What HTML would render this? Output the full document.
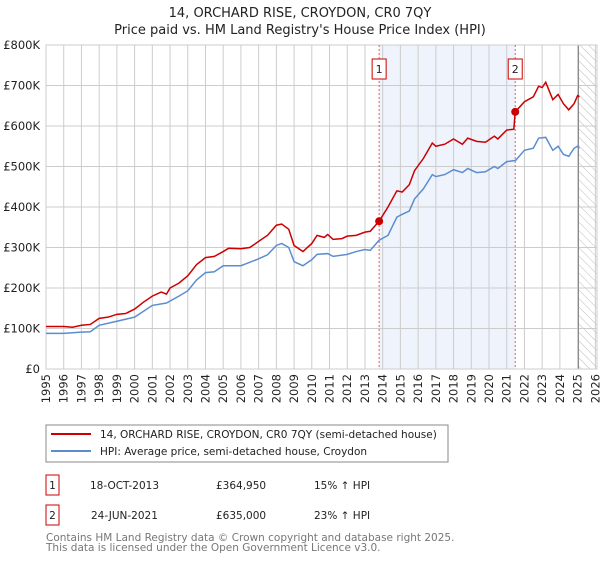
<!DOCTYPE html>
<html><head><meta charset="utf-8"><style>
body{margin:0;background:#fff;font-family:"Liberation Sans","DejaVu Sans",sans-serif;}
svg text{font-family:"DejaVu Sans","Liberation Sans",sans-serif;}
</style></head><body>
<svg id="chart" width="600" height="560" viewBox="0 0 600 560" xmlns="http://www.w3.org/2000/svg">
<defs><pattern id="hatch" width="6" height="6" patternUnits="userSpaceOnUse" patternTransform="rotate(-45)"><line x1="0" y1="0" x2="0" y2="6" stroke="#bbb" stroke-width="1"/></pattern></defs>
<text x="300" y="17" text-anchor="middle" font-size="13" fill="#222">14, ORCHARD RISE, CROYDON, CR0 7QY</text>
<text x="300" y="34" text-anchor="middle" font-size="13" fill="#222">Price paid vs. HM Land Registry's House Price Index (HPI)</text>
<g id="plot"></g>
<g>
<rect x="46" y="425" width="402" height="37" fill="#fff" stroke="#888"/>
<line x1="51" y1="434" x2="91" y2="434" stroke="#cc0000" stroke-width="2"/>
<text x="100" y="438" font-size="10.5" fill="#222">14, ORCHARD RISE, CROYDON, CR0 7QY (semi-detached house)</text>
<line x1="51" y1="451" x2="91" y2="451" stroke="#5b8dd0" stroke-width="2"/>
<text x="100" y="455" font-size="10.5" fill="#222">HPI: Average price, semi-detached house, Croydon</text>
</g>
<g font-size="10.5" fill="#222">
<rect x="46" y="475" width="13" height="20" fill="#fff" stroke="#cc0000"/>
<text x="52.5" y="489" text-anchor="middle">1</text>
<text x="90" y="489">18-OCT-2013</text><text x="216" y="489">£364,950</text><text x="314" y="489">15% ↑ HPI</text>
</g>
<g font-size="10.5" fill="#222">
<rect x="46" y="505" width="13" height="20" fill="#fff" stroke="#cc0000"/>
<text x="52.5" y="519" text-anchor="middle">2</text>
<text x="91" y="519">24-JUN-2021</text><text x="216" y="519">£635,000</text><text x="314" y="519">23% ↑ HPI</text>
</g>
<text x="46" y="541" font-size="10.5" fill="#777">Contains HM Land Registry data © Crown copyright and database right 2025.</text>
<text x="46" y="551" font-size="10.5" fill="#777">This data is licensed under the Open Government Licence v3.0.</text>
</svg>
<script>
const yTicks=[0,100,200,300,400,500,600,700,800];
const yTickLabels=["£0","£100K","£200K","£300K","£400K","£500K","£600K","£700K","£800K"];
const years=[1995,1996,1997,1998,1999,2000,2001,2002,2003,2004,2005,2006,2007,2008,2009,2010,2011,2012,2013,2014,2015,2016,2017,2018,2019,2020,2021,2022,2023,2024,2025,2026];
const redT=[1995,1996,1996.5,1997,1997.5,1998,1998.5,1999,1999.5,2000,2000.5,2001,2001.5,2001.8,2002,2002.5,2003,2003.5,2004,2004.5,2005,2005.3,2006,2006.5,2007,2007.5,2008,2008.3,2008.7,2009,2009.5,2010,2010.3,2010.7,2010.9,2011.2,2011.7,2012,2012.5,2013,2013.3,2013.8,2014.3,2014.8,2015.1,2015.5,2015.8,2016.3,2016.8,2017,2017.5,2018,2018.5,2018.8,2019.3,2019.8,2020.3,2020.5,2021,2021.4,2021.48,2022,2022.5,2022.8,2023,2023.2,2023.6,2023.9,2024.2,2024.5,2024.8,2025,2025.1];
const redV=[105,105,103,108,110,125,128,135,137,148,165,180,190,185,200,212,230,258,275,278,290,298,297,300,315,330,355,358,345,305,290,310,330,325,332,320,322,328,330,338,340,365,400,440,437,455,490,520,558,550,555,568,555,570,562,560,575,568,590,592,635,660,672,698,695,708,665,678,655,640,655,675,672];
const blueT=[1995,1996,1997,1997.5,1998,1999,2000,2001,2001.8,2002.5,2003,2003.5,2004,2004.5,2005,2006,2007,2007.5,2008,2008.3,2008.7,2009,2009.5,2010,2010.3,2010.9,2011.2,2012,2012.5,2013,2013.3,2013.8,2014.3,2014.8,2015.1,2015.5,2015.8,2016.3,2016.8,2017,2017.5,2018,2018.5,2018.8,2019.3,2019.8,2020.3,2020.5,2021,2021.5,2022,2022.5,2022.8,2023.2,2023.6,2023.9,2024.2,2024.5,2024.8,2025,2025.1];
const blueV=[88,88,91,92,108,118,128,157,163,180,193,220,238,240,255,255,272,282,305,310,300,265,255,270,283,285,278,283,290,295,293,318,330,375,382,390,420,445,480,475,480,492,485,495,485,487,500,495,512,515,540,545,570,572,540,550,530,525,545,550,545];
const sales=[{t:2013.8,v:364.95,label:"1"},{t:2021.48,v:635,label:"2"}];
const NS="http://www.w3.org/2000/svg";
const L=46,R=597,T=45,B=369;
const x=t=>L+(t-1995)*17.72;
const y=v=>B-v*(B-T)/800;
const g=document.getElementById('plot');
function mk(tag,attrs){const e=document.createElementNS(NS,tag);for(const k in attrs)e.setAttribute(k,attrs[k]);g.appendChild(e);return e;}
let e;
e=mk('rect',{x:x(sales[0].t),y:T,width:x(sales[1].t)-x(sales[0].t),height:B-T,fill:'#eef3fc'});


e=mk('rect',{x:x(2025.05),y:T,width:R-x(2025.05),height:B-T,fill:'url(#hatch)'});


years.forEach(yr=>{
 e=mk('line',{x1:x(yr),y1:T,x2:x(yr),y2:B,stroke:'#ccc','stroke-width':1});
 
 
 e=mk('text',{x:0,y:0,transform:`translate(${x(yr)+4},${B+5}) rotate(-90)`,'text-anchor':'end','font-size':'11.5',fill:'#222'});
 e.textContent=yr;
 
 
});
yTicks.forEach((v,i)=>{
 e=mk('line',{x1:L,y1:y(v),x2:R,y2:y(v),stroke:'#ccc','stroke-width':1});
 
 
 e=mk('text',{x:L-6,y:y(v)+4,'text-anchor':'end','font-size':'11.5',fill:'#222'});
 e.textContent=yTickLabels[i];
 
 
});
e=mk('line',{x1:x(2025.05),y1:T,x2:x(2025.05),y2:B,stroke:'#888','stroke-width':1});


e=mk('rect',{x:L,y:T,width:R-L,height:B-T,fill:'none',stroke:'#ccc'});


sales.forEach(s=>{
 e=mk('line',{x1:x(s.t),y1:T,x2:x(s.t),y2:B,stroke:'#e06060','stroke-width':1,'stroke-dasharray':'2,2'});
 
 
 e=mk('rect',{x:x(s.t)-7,y:T+14,width:14,height:20,fill:'#fff',stroke:'#cc0000'});
 
 
 e=mk('text',{x:x(s.t),y:T+28,'text-anchor':'middle','font-size':'11',fill:'#222'});
 e.textContent=s.label;
 
 
});
e=mk('polyline',{points:blueT.map((t,i)=>x(t)+','+y(blueV[i])).join(' '),fill:'none',stroke:'#5b8dd0','stroke-width':1.5});


e=mk('polyline',{points:redT.map((t,i)=>x(t)+','+y(redV[i])).join(' '),fill:'none',stroke:'#cc0000','stroke-width':1.5});


sales.forEach(s=>{
 e=mk('circle',{cx:x(s.t),cy:y(s.v),r:4,fill:'#cc0000'});
 
 
});
</script>
</body></html>
